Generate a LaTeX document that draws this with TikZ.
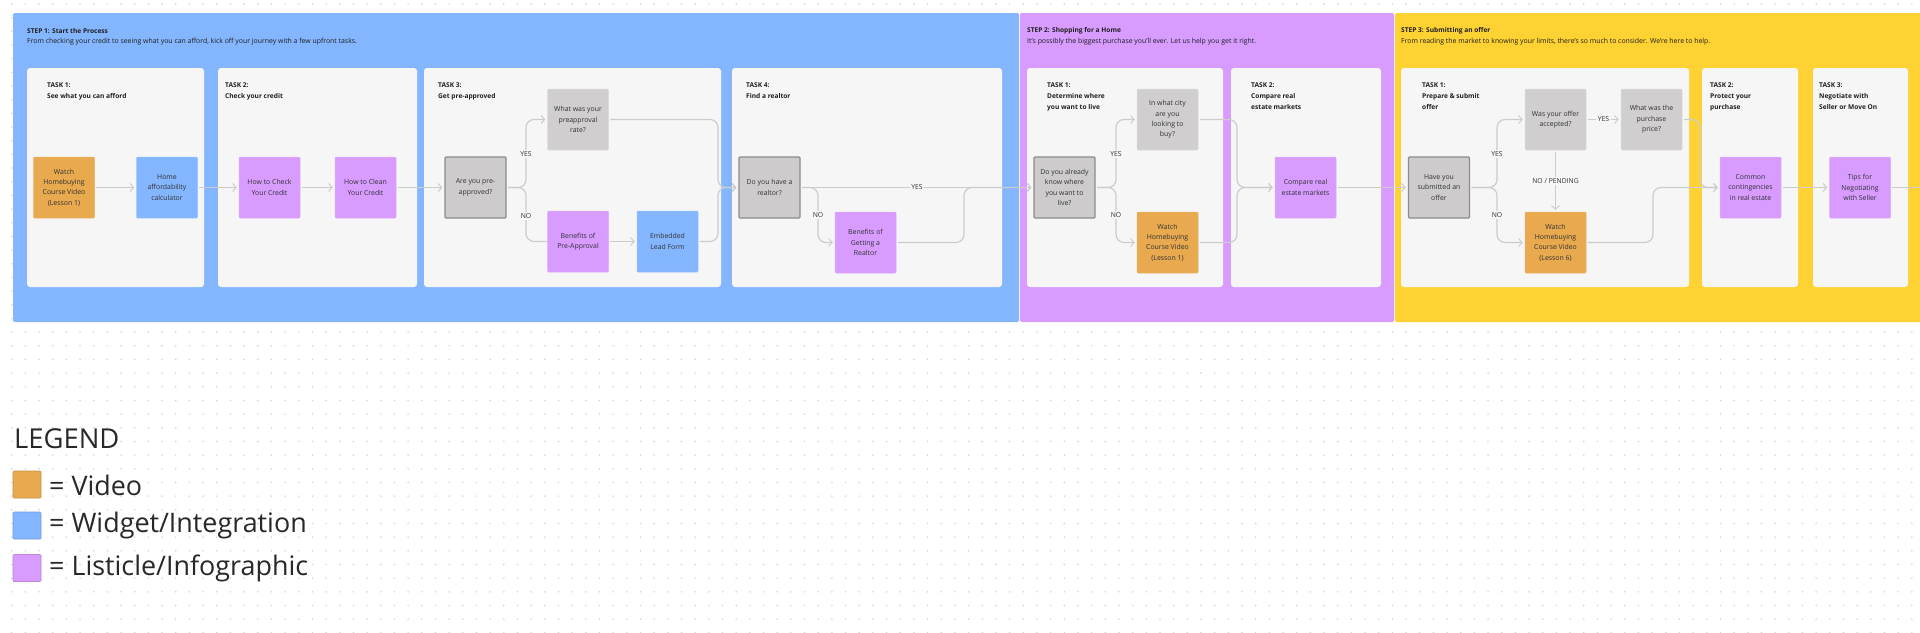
\documentclass[tikz,border=0pt]{standalone}
\usepackage{fontspec}
\setmainfont{Open Sans}
\usetikzlibrary{arrows.meta}
\definecolor{blueP}{RGB}{132,182,255}
\definecolor{purpleP}{RGB}{216,155,255}
\definecolor{yellowP}{RGB}{255,210,51}
\definecolor{taskbg}{RGB}{246,246,246}
\definecolor{orangeB}{RGB}{232,169,79}
\definecolor{blueB}{RGB}{132,182,255}
\definecolor{purpleB}{RGB}{216,155,255}
\definecolor{grayQ}{RGB}{208,206,206}
\definecolor{grayD}{RGB}{205,203,203}
\definecolor{decborder}{RGB}{140,140,140}
\definecolor{linec}{RGB}{204,204,204}
\definecolor{dotc}{RGB}{208,208,208}
\definecolor{textc}{RGB}{50,50,50}
\definecolor{headc}{RGB}{30,30,30}
\definecolor{legc}{RGB}{40,40,40}
\newcommand{\boxfont}{\fontsize{6.9}{10.3}\selectfont}
\newcommand{\lblfont}{\fontsize{6.8}{8}\selectfont}
\begin{document}
\begin{tikzpicture}[x=1pt,y=-1pt,
  cbox/.style={minimum width=61pt,minimum height=61pt,inner sep=0pt,align=center,
    font=\boxfont,text=textc,rounded corners=1pt,line width=0.5pt},
  vid/.style={cbox,fill=orangeB,draw=orangeB!85!white},
  wid/.style={cbox,fill=blueB,draw=blueB!85!white},
  lst/.style={cbox,fill=purpleB,draw=purpleB!85!white},
  qst/.style={cbox,fill=grayQ,draw=grayQ!70!white},
  dec/.style={cbox,fill=grayD,draw=decborder,line width=1.3pt},
  conn/.style={draw=linec,line width=1.2pt,rounded corners=8pt,
    -{Straight Barb[length=3.5pt,width=8pt,line width=1pt]},shorten >=2pt,shorten <=1.5pt},
  plain/.style={draw=linec,line width=1.2pt,rounded corners=8pt,shorten <=1.5pt},
  lbl/.style={fill=taskbg,inner sep=1.5pt,font=\lblfont,text=textc},
  steptitle/.style={anchor=west,inner sep=0pt,font=\bfseries\fontsize{6.6}{8}\selectfont,text=headc},
  stepsub/.style={anchor=west,inner sep=0pt,font=\fontsize{6.9}{8}\selectfont,text=headc},
  tasklbl/.style={anchor=north west,align=left,inner sep=0pt,
    font=\bfseries\fontsize{6.6}{10.6}\selectfont,text=headc},
  legtxt/.style={anchor=west,inner sep=0pt,font=\fontsize{26.9}{30}\selectfont,text=legc},
  swatch/.style={minimum width=28pt,minimum height=27pt,inner sep=0pt,rounded corners=1pt,line width=0.6pt}
]
\useasboundingbox (0,0) rectangle (1920,632);
\fill[white] (0,0) rectangle (1920,632);
% dot grid
\foreach \i in {0,...,139}{\foreach \j in {0,...,46}{
  \fill[dotc] ({11.7+13.67*\i},{4+13.67*\j}) circle (0.85pt);}}
% step panels
\fill[blueP,rounded corners=2pt] (13,13) rectangle (1019,322);
\fill[purpleP,rounded corners=2pt] (1020,13) rectangle (1394,322);
\fill[yellowP,rounded corners=2pt] (1395,13) rectangle (1925,322);
% step titles
\node[steptitle] (s1t) at (27,31) {STEP 1: Start the Process};
\node[stepsub] (s1s) at (27,42) {From checking your credit to seeing what you can afford, kick off your journey with a few upfront tasks.};
\node[steptitle] (s2t) at (1027,31) {STEP 2: Shopping for a Home};
\node[stepsub] (s2s) at (1027,42) {It’s possibly the biggest purchase you’ll ever. Let us help you get it right.};
\node[steptitle] (s3t) at (1401,31) {STEP 3: Submitting an offer};
\node[stepsub] (s3s) at (1401,42) {From reading the market to knowing your limits, there’s so much to consider. We’re here to help.};
% task panels
\foreach \a/\b in {27/204,218/417,424/721,732/1002,1027/1223,1231/1381,1401/1689,1702/1798,1813/1908}{
  \fill[taskbg,rounded corners=3pt] (\a,68) rectangle (\b,287);}
% task labels
\node[tasklbl] (k11) at (47,83) {TASK 1:\\See what you can afford};
\node[tasklbl] (k12) at (225,83) {TASK 2:\\Check your credit};
\node[tasklbl] (k13) at (438,83) {TASK 3:\\Get pre-approved};
\node[tasklbl] (k14) at (746,83) {TASK 4:\\Find a realtor};
\node[tasklbl] (k21) at (1047,83) {TASK 1:\\Determine where\\you want to live};
\node[tasklbl] (k22) at (1251,83) {TASK 2:\\Compare real\\estate markets};
\node[tasklbl] (k31) at (1422,83) {TASK 1:\\Prepare \& submit\\offer};
\node[tasklbl] (k32) at (1710,83) {TASK 2:\\Protect your\\purchase};
\node[tasklbl] (k33) at (1819,83) {TASK 3:\\Negotiate with\\Seller or Move On};
% boxes step 1
\node[vid] (v1) at (64,187.5) {Watch\\Homebuying\\Course Video\\(Lesson 1)};
\node[wid] (calc) at (167,187.5) {Home\\affordability\\calculator};
\node[lst] (chk) at (269.5,187.5) {How to Check\\Your Credit};
\node[lst] (cln) at (365.5,187.5) {How to Clean\\Your Credit};
\node[dec] (pre) at (475.5,187.5) {Are you pre-\\approved?};
\node[qst] (rate) at (578,119.5) {What was your\\preapproval\\rate?};
\node[lst] (ben) at (578,241.5) {Benefits of\\Pre-Approval};
\node[wid] (lead) at (667.5,241.5) {Embedded\\Lead Form};
\node[dec] (realtor) at (769.5,187.5) {Do you have a\\realtor?};
\node[lst] (benr) at (865.5,242.5) {Benefits of\\Getting a\\Realtor};
% boxes step 2
\node[dec] (where) at (1064.5,187.5) {Do you already\\know where\\you want to\\live?};
\node[qst] (city) at (1167.5,119.5) {In what city\\are you\\looking to\\buy?};
\node[vid] (v2) at (1167.5,242.5) {Watch\\Homebuying\\Course Video\\(Lesson 1)};
\node[lst] (cmp) at (1305.5,187.5) {Compare real\\estate markets};
% boxes step 3
\node[dec] (sub) at (1439,187.5) {Have you\\submitted an\\offer};
\node[qst] (acc) at (1555.5,119.5) {Was your offer\\accepted?};
\node[qst] (price) at (1651.5,119.5) {What was the\\purchase\\price?};
\node[vid] (v6) at (1555.5,242.5) {Watch\\Homebuying\\Course Video\\(Lesson 6)};
\node[lst] (cont) at (1750.5,187.5) {Common\\contingencies\\in real estate};
\node[lst] (tips) at (1860,187.5) {Tips for\\Negotiating\\with Seller};
% branch / merge points
\coordinate (b1) at (526,187.5);
\coordinate (m1) at (718,187.5);
\coordinate (b2) at (818,187.5);
\coordinate (m2) at (964,187.5);
\coordinate (b3) at (1116,187.5);
\coordinate (m3) at (1237,187.5);
\coordinate (b4) at (1497,187.5);
\coordinate (m4) at (1700,187.5);
\coordinate (m5) at (1653,187.5);
\coordinate (offr) at (1925,187.5);
% connectors step 1
\draw[conn] (v1) -- (calc);
\draw[conn] (calc) -- (chk);
\draw[conn] (chk) -- (cln);
\draw[conn] (cln) -- (pre);
\draw[conn] (pre.east) -- (b1) |- (rate.west);
\draw[plain] (pre.east) -- (b1) |- (ben.west);
\node[lbl] (l1y) at (526,154) {YES};
\node[lbl] (l1n) at (526,216) {NO};
\draw[conn] (ben) -- (lead);
\draw[conn] (rate.east) -| (m1) -- (realtor.west);
\draw[conn] (lead.east) -| (m1) -- (realtor.west);
\draw[conn] (realtor.east) -- (b2) |- (benr.west);
\draw[conn] (benr.east) -| (m2) -- (where.west);
\draw[conn] (realtor.east) -- (where.west);
\node[lbl] (l2y) at (917,187.5) {YES};
\node[lbl] (l2n) at (818,215) {NO};
% connectors step 2
\draw[conn] (where.east) -- (b3) |- (city.west);
\draw[conn] (where.east) -- (b3) |- (v2.west);
\node[lbl] (l3y) at (1116,154) {YES};
\node[lbl] (l3n) at (1116,215) {NO};
\draw[conn] (city.east) -| (m3) -- (cmp.west);
\draw[conn] (v2.east) -| (m3) -- (cmp.west);
\draw[conn] (cmp) -- (sub);
% connectors step 3
\draw[conn] (sub.east) -- (b4) |- (acc.west);
\draw[conn] (sub.east) -- (b4) |- (v6.west);
\node[lbl] (l4y) at (1497,154) {YES};
\node[lbl] (l4n) at (1497,215) {NO};
\draw[conn] (acc) -- node[lbl] (l5y) {YES} (price);
\draw[conn] (acc) -- node[lbl] (l5n) {NO / PENDING} (v6);
\draw[conn] (price.east) -| (m4) -- (cont.west);
\draw[conn] (v6.east) -| (m5) -- (cont.west);
\draw[conn] (cont) -- (tips);
\draw[plain] (tips.east) -- (offr);
% legend
\node[legtxt,font=\fontsize{27.4}{30}\selectfont] (leg) at (14,439) {LEGEND};
\node[swatch,fill=orangeB,draw=orangeB!85!black] (sw1) at (27,484.5) {};
\node[swatch,fill=blueB,draw=blueB!85!black] (sw2) at (27,525.5) {};
\node[swatch,fill=purpleB,draw=purpleB!85!black] (sw3) at (27,568) {};
\node[legtxt] (lg1) at (49,485) {= Video};
\node[legtxt] (lg2) at (49,526) {= Widget/Integration};
\node[legtxt] (lg3) at (49,568) {= Listicle/Infographic};
\end{tikzpicture}
\end{document}
